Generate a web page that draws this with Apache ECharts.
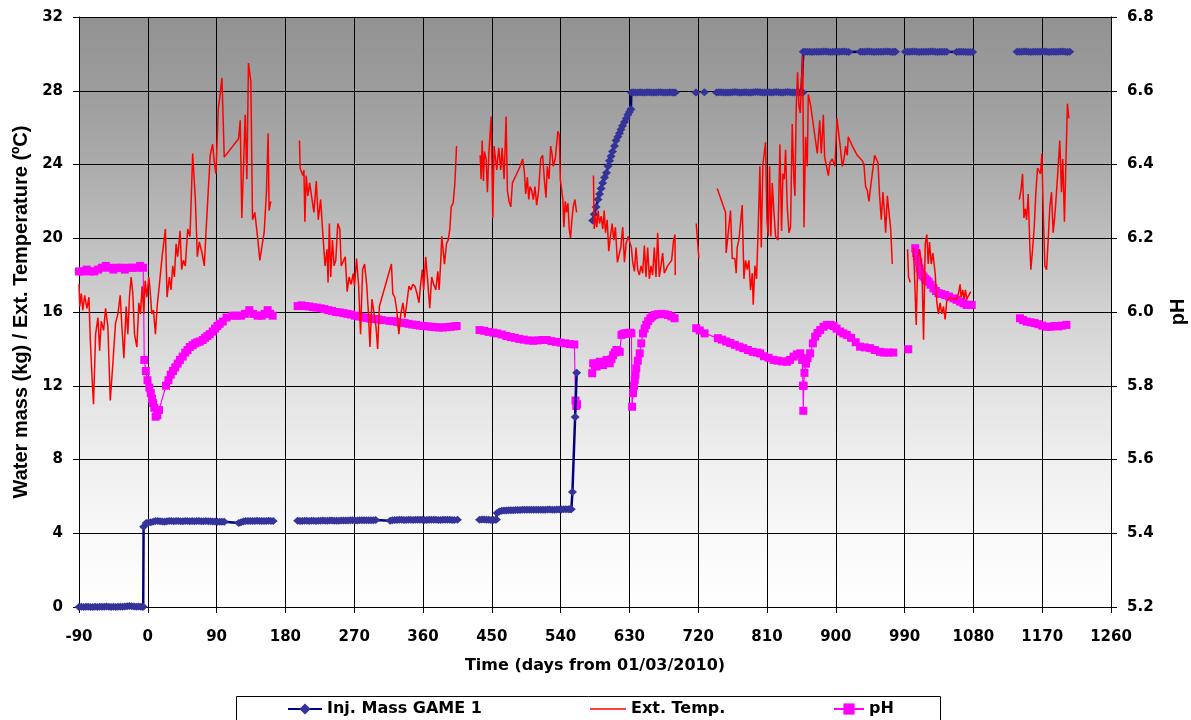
<!DOCTYPE html>
<html>
<head>
<meta charset="utf-8">
<script src="https://cdn.jsdelivr.net/npm/echarts@6/dist/echarts.min.js"></script>
<style>
  html, body { margin: 0; padding: 0; background: #ffffff; }
  #chart { width: 1191px; height: 720px; }
</style>
</head>
<body>
<div id="chart"></div>
<script>
// Time axis ticks (days from 01/03/2010)
const dayTicks = [-90, 0, 90, 180, 270, 360, 450, 540, 630, 720, 810, 900, 990, 1080, 1170, 1260];
const seriesNames = ['Inj. Mass GAME 1', 'Ext. Temp.', 'pH'];

// Injected water mass (kg) as [day, kg]; null marks a break in the record
const injMass = [
  [-90,0],[-87,0.01],[-84,0],[-81,0.01],[-78,0.02],[-75,0],[-72,0],[-69,0.01],[-66,0],[-63,0.01],[-60,0.02],[-57,0.02],[-54,0.03],[-51,0.01],[-48,0],[-45,0.01],[-42,0],[-39,0.01],[-36,0.02],[-33,0.02],[-30,0.03],[-27,0.04],[-24,0.05],[-21,0.04],[-18,0.03],[-15,0.02],[-12,0.03],[-9,0.02],[-7,0.02],[-6,0.02],
  [-5.5,4.35],[-2,4.55],[1,4.58],[4,4.6],[7,4.63],[10,4.66],[13,4.66],[16,4.65],[19,4.64],[22,4.63],[25,4.65],[28,4.66],[31,4.66],[34,4.65],[37,4.66],[40,4.66],[43,4.65],[46,4.65],[49,4.66],[52,4.66],[55,4.65],[58,4.66],[61,4.65],[64,4.66],[67,4.66],[70,4.65],[73,4.65],[76,4.66],[79,4.65],[82,4.65],[85,4.64],[88,4.64],[91,4.63],[94,4.63],[97,4.62],[100,4.62],
  [119,4.56],[122,4.6],[125,4.64],[128,4.66],[131,4.67],[134,4.66],[137,4.66],[140,4.67],[143,4.68],[146,4.67],[149,4.66],[152,4.67],[155,4.67],[158,4.68],[161,4.67],[164,4.67],
  null,
  [196,4.68],[199,4.67],[202,4.67],[205,4.68],[208,4.68],[211,4.67],[214,4.68],[217,4.68],[220,4.67],[223,4.68],[226,4.68],[229,4.69],[232,4.68],[235,4.68],[238,4.69],[241,4.69],[244,4.68],[247,4.68],[250,4.68],[253,4.69],[256,4.69],[259,4.69],[262,4.69],[265,4.7],[268,4.7],[271,4.69],[274,4.69],[277,4.7],[280,4.7],[283,4.7],[286,4.7],[289,4.71],[292,4.71],[295,4.71],[298,4.72],
  [317,4.68],[320,4.71],[323,4.72],[326,4.72],[329,4.73],[332,4.73],[335,4.72],[338,4.72],[341,4.73],[344,4.73],[347,4.72],[350,4.73],[353,4.73],[356,4.73],[359,4.73],[362,4.72],[365,4.72],[368,4.73],[371,4.73],[374,4.73],[377,4.73],[380,4.72],[383,4.72],[386,4.73],[389,4.73],[392,4.73],[395,4.73],[398,4.72],[401,4.72],[405,4.73],
  null,
  [434,4.73],[437,4.74],[440,4.74],[443,4.73],[446,4.73],[449,4.72],[452,4.72],[455,4.73],[456,4.74],[457,5.1],[460,5.18],[463,5.22],[466,5.24],[469,5.24],[472,5.25],[475,5.25],[478,5.25],[481,5.26],[484,5.26],[487,5.26],[490,5.27],[493,5.27],[496,5.27],[499,5.27],[502,5.28],[505,5.28],[508,5.27],[511,5.28],[514,5.28],[517,5.28],[520,5.28],[523,5.29],[526,5.29],[529,5.28],[532,5.28],[535,5.29],[538,5.29],[541,5.29],[544,5.3],[547,5.3],[550,5.3],[552,5.3],[554,5.3],
  [555.5,6.24],[559,10.3],[561,12.7],
  null,
  [582,20.96],[584,21.3],[586.5,21.7],[589,22.1],[591,22.4],[593,22.7],[595,23.0],[597.5,23.3],[600,23.55],[602,23.9],[604,24.2],[606,24.45],[608,24.7],[610.5,25.0],[612.5,25.3],[615,25.5],[617,25.7],[619,25.9],[621,26.1],[623.5,26.3],[626,26.5],[628,26.7],[630,26.85],[632,27.0],
  [632.5,27.9],[635,27.92],[638,27.9],[641,27.9],[644,27.92],[647,27.9],[650,27.9],[653,27.92],[656,27.92],[659,27.9],[662,27.9],[665,27.9],[668,27.92],[671,27.92],[674,27.9],[677,27.9],[680,27.9],[683,27.92],[686,27.9],[688,27.9],[690,27.9],
  null,
  [717,27.9],
  null,
  [728,27.92],
  null,
  [744,27.9],[747,27.92],[750,27.92],[753,27.9],[756,27.9],[759,27.9],[762,27.9],[765,27.92],[768,27.93],[771,27.92],[774,27.9],[777,27.9],[780,27.92],[783,27.92],[786,27.9],[789,27.9],[792,27.92],[795,27.93],[798,27.93],[801,27.92],[804,27.9],[807,27.9],[810,27.92],[813,27.92],[816,27.9],[819,27.92],[822,27.93],[825,27.92],[828,27.9],[831,27.9],[834,27.92],[837,27.93],[840,27.92],[843,27.9],[846,27.9],[849,27.92],[852,27.9],[855,27.9],[857,27.9],
  [857.5,30.12],[860,30.12],[863,30.12],[866,30.11],[869,30.1],[872,30.11],[875,30.12],[878,30.12],[881,30.12],[884,30.13],[887,30.13],[890,30.12],[893,30.1],[896,30.11],[899,30.12],[902,30.12],[905,30.12],[908,30.13],[911,30.13],[914,30.12],[917,30.1],
  [932,30.12],[935,30.12],[938,30.12],[941,30.13],[944,30.13],[947,30.12],[950,30.1],[953,30.11],[956,30.12],[959,30.12],[962,30.12],[965,30.13],[968,30.13],[971,30.12],[974,30.1],[976,30.11],[978,30.12],
  null,
  [991,30.12],[994,30.12],[997,30.12],[1000,30.13],[1003,30.13],[1006,30.12],[1009,30.1],[1012,30.11],[1015,30.12],[1018,30.12],[1021,30.12],[1024,30.13],[1027,30.13],[1030,30.12],[1033,30.1],[1036,30.11],[1039,30.12],[1042,30.12],[1045,30.12],
  [1058,30.1],[1061,30.11],[1064,30.12],[1067,30.11],[1070,30.1],[1073,30.1],[1076,30.1],[1079,30.1],
  null,
  [1137,30.12],[1140,30.12],[1143,30.12],[1146,30.13],[1149,30.13],[1152,30.12],[1155,30.1],[1158,30.11],[1161,30.12],[1164,30.12],[1167,30.12],[1170,30.13],[1173,30.13],[1176,30.12],[1179,30.1],[1182,30.11],[1185,30.12],[1188,30.12],[1191,30.12],[1194,30.13],[1197,30.13],[1200,30.12],[1203,30.1],[1206,30.12]
];

// External temperature (ºC) as [day, ºC]
const extTemp = [
  [-90,17.5],[-89,16.3],[-87,17.0],[-85,16.1],[-82.6,16.9],[-79.6,16.2],[-77,16.8],[-75.2,14.5],[-73,12.5],[-71,11.0],[-68.3,14.8],[-65.2,15.7],[-63,13.9],[-60.9,15.5],[-57.8,15.0],[-55.2,16.2],[-52.2,15.2],[-49.1,11.2],[-45.7,13.2],[-42.2,15.4],[-39.1,15.9],[-36.1,16.9],[-33.9,15.2],[-31.3,13.5],[-28.3,16.3],[-26.1,14.8],[-24,16.8],[-21.8,17.9],[-19.6,17.0],[-17.4,14.8],[-14.3,14.1],[-11.7,16.5],[-9.6,15.9],[-7.4,17.4],[-5.2,15.9],[-3.5,17.7],[-1.3,16.8],[1.3,17.9],[3,17.2],[5.2,15.9],[7.4,16.1],[10,14.8],[12.2,16.3],[15.2,17.5],[18.7,19.0],[23,20.5],[25.2,16.8],[28.3,17.9],[30.4,17.2],[32.6,18.5],[34.8,17.9],[37,19.7],[39.1,19.0],[42.2,20.4],[44.3,18.3],[46.5,18.8],[49.1,18.5],[52.2,20.5],[55.2,20.1],[58.7,24.6],[62.2,22.1],[64.8,19.0],[67.4,19.8],[70.9,19.2],[73.9,18.5],[76.1,20.3],[78.7,22.3],[81.7,24.5],[84.8,25.1],[87,24.1],[89.1,23.5],[92.2,27.0],[94.3,27.7],[97,28.7],[100,24.4],[118.7,25.4],[120.9,26.4],[123,21.1],[125.2,23.9],[127.4,26.7],[129.6,23.2],[131.7,29.5],[134.8,28.5],[137,21.0],[140,21.4],[143.5,20.1],[146.6,18.8],[149.1,19.5],[152.2,20.3],[155.2,22.5],[157.4,25.7],[158.7,21.5],[160.9,22.0],
  null,
  [198.4,25.3],[199.3,23.8],[201.1,23.9],[202.8,23.4],[204.2,23.7],[205.5,20.9],[207.2,23.4],[209.4,22.3],[211.7,23.0],[214.2,23.0],[217.3,21.4],[220.4,23.1],[223,21.0],[226.1,22.1],[229.2,20.1],[231.8,18.5],[234.5,19.4],[235.8,17.6],[237.5,20.8],[239.3,17.9],[241.5,19.9],[243.7,18.5],[245.9,18.8],[248.5,20.8],[251.2,20.5],[253,18.5],[255.6,18.6],[258.3,19.0],[260.8,17.1],[263.4,17.9],[266,17.5],[268.7,18.1],[270.4,17.4],[273.1,18.9],[275.7,17.5],[278.3,14.8],[281,18.3],[283.6,18.6],[286.3,17.5],[288.4,16.1],[290.6,14.1],[293.3,16.7],[295.9,16.8],[298.5,15.2],[300.7,14.0],[302.9,16.3],[318.7,18.6],[320.5,17.0],[323.1,16.8],[325.7,16.1],[328.4,14.8],[331,15.9],[333.7,16.5],[336.3,15.7],[338.9,16.5],[341.6,17.4],[344.2,17.2],[346.8,17.5],[349.5,17.4],[352.1,17.0],[354.7,16.5],[356.9,17.5],[359.1,18.3],[360.9,17.2],[363.5,19.0],[366.1,17.7],[368.8,16.2],[371.4,17.9],[374,17.5],[376.7,17.2],[379.4,18.2],[381.1,17.2],[382.9,18.5],[384.6,20.1],[386.4,20.2],[388.1,18.6],[390.7,19.7],[392.9,19.9],[395.1,20.5],[396.9,21.7],[399.5,21.9],[401.7,23.0],[403.9,25.0],
  null,
  [434.8,24.5],[436,23.2],[437.4,25.3],[439.1,23.1],[440.4,24.7],[442.6,24.3],[444.3,22.5],[446.1,24.6],[447.8,25.7],[449.1,26.6],[451.3,21.1],[453,25.0],[454.8,25.1],[456.5,23.7],[459.1,24.9],[461.7,23.7],[463.5,24.9],[466.1,23.2],[468.7,26.6],[470.4,22.6],[472.6,22.0],[474.8,21.7],[477,23.0],[482.6,23.5],[487,23.9],[490.4,24.3],[492.6,23.6],[494.3,22.4],[496.5,23.3],[498.3,22.1],[500,22.8],[502.2,22.6],[504.3,22.1],[506.5,22.8],[508.7,21.8],[511.3,22.6],[513.9,24.3],[516.5,24.5],[518.7,23.2],[520.9,22.2],[522.6,23.9],[524.8,23.2],[527,25.0],[528.7,24.6],[530.4,23.9],[533,24.3],[534.8,25.1],[536.5,25.8],[538.3,25.6],[539.6,23.2],[541.3,23.1],[543,22.1],[544.3,20.6],[546.1,22.0],[547.8,21.4],[549.6,21.9],[551.3,20.5],[553,20.0],[554.8,21.0],[556.5,21.7],[558.7,22.1],[560.9,21.4],
  null,
  [583,23.4],[583.9,20.5],[585.7,21.2],[587.4,20.6],[589.1,21.5],[590.9,20.8],[593,21.2],[595.2,20.5],[597,21.5],[598.7,20.3],[600.9,21.0],[603,19.3],[605.2,20.1],[607.4,20.8],[609.6,19.9],[611.7,20.6],[614.3,18.7],[616.9,18.7],[618.7,19.5],[621.3,20.6],[623.5,18.7],[625.7,19.7],[628.3,20.1],[630.9,20.0],[632.6,19.5],[634.3,18.7],[636.5,18.2],[638.7,19.5],[640.9,18.3],[643,18.0],[645.2,18.5],[647.4,18.1],[649.6,19.6],[651.7,17.9],[653.9,19.5],[656.1,17.8],[658.3,18.5],[660.4,18.0],[662.6,19.5],[664.8,17.9],[667,20.3],[669.1,17.9],[671.3,18.5],[673.5,19.2],[675.7,18.1],[677.8,18.1],[680,18.5],[682.2,18.6],[685.2,18.8],[687.8,19.9],[689.6,20.2],[690,18.0],
  null,
  [717.4,20.8],[720.9,18.9],
  null,
  [744.9,22.7],[755.8,21.4],[756.6,19.2],[758.8,20.1],[762.3,21.5],[764.5,18.9],[768,18.9],[769.7,18.1],[771,19.5],[773.2,19.9],[775.4,19.9],[777.6,21.8],[779.8,17.8],[781.9,18.8],[784.1,18.3],[786.3,18.8],[788.5,17.2],[790.7,18.1],[792,16.4],[794.2,18.5],[796.4,17.8],[798.5,20.6],[800.7,23.9],[802.5,19.5],[804.6,24.0],[806.4,23.9],[808.1,25.2],[809.9,21.0],[811.6,20.1],[813.4,23.9],[815.1,20.1],[816.9,23.0],[819,21.5],[821.2,20.1],[824.3,19.9],[826.9,25.1],[829.1,20.4],[830.8,23.5],[832.6,23.2],[834.3,24.8],[836.5,21.7],[838.7,20.3],[840.8,20.6],[843,26.2],[845.2,23.2],[846.5,22.3],[848.3,27.2],[850,29.0],[851.8,27.2],[853.5,26.8],[855.3,28.6],[856.6,29.9],[858.4,20.6],[860.5,25.5],[862.7,23.9],[864,27.8],[867.1,27.2],[875.8,24.6],[878.9,26.4],[881,24.6],[883.7,26.7],[885.4,24.4],[887.6,24.5],[890.2,23.4],[892.3,24.1],[895.4,24.3],[898.9,23.9],[901.5,26.5],[904.1,26.4],[906.3,24.8],[908.5,23.9],[910.7,24.3],[912.8,25.0],[915,24.5],[916.3,25.5],[921.6,25.0],[928.1,24.5],[934.7,24.2],[936.8,24.0],[939,22.8],[941.2,22.6],[943.4,22.0],[945.6,22.8],[947.7,23.5],[950.8,24.5],[953,24.6],[955.2,24.1],[957.3,22.3],[959.5,21.0],[961.7,22.5],[963.5,21.5],[965.2,20.3],[967.4,22.3],[970,22.4],[971.8,20.5],[973.9,18.6],
  null,
  [993.9,19.4],[995.2,17.9],[997.4,17.6],
  null,
  [1001.7,19.5],[1005.2,15.3],[1007.4,19.0],[1009.6,19.4],[1012.6,18.5],[1014.8,14.5],[1017,19.7],[1019.1,20.2],[1020.9,18.6],[1022.6,19.8],[1024.8,18.6],[1027,19.2],[1030,18.1],[1032.2,16.5],[1034.3,15.9],[1036.5,16.5],[1038.7,15.9],[1040.9,16.3],[1043,15.6],[1045.2,16.6],[1049.6,16.8],[1053.9,16.7],[1058.3,16.7],[1060.4,17.0],[1062.6,17.5],[1063.9,16.8],[1066.1,17.2],[1067.8,16.7],[1069.6,17.2],[1071.3,16.7],[1073.9,16.8],[1076.5,17.1],
  null,
  [1140,22.1],[1142.2,22.6],[1144.3,23.5],[1146.1,21.1],[1147.8,21.6],[1149.6,21.0],[1151.7,22.4],[1153.9,19.5],[1155.2,18.3],[1157.4,19.4],[1159.6,20.6],[1161.7,22.5],[1163.9,23.8],[1166.1,23.9],[1167.8,23.5],[1169.6,24.6],[1171.3,21.5],[1173.5,18.5],[1175.7,18.3],[1177.8,19.9],[1180,21.7],[1182.2,22.5],[1184.3,20.3],[1186.5,21.2],[1188.7,22.5],[1190.9,23.9],[1193,25.3],[1195.2,22.5],[1196.9,24.3],[1199.1,20.9],[1200.9,23.9],[1203,27.3],[1204.8,26.5]
];

// pH as [day, pH]
const phData = [
  [-90,6.11],[-85,6.11],[-80,6.115],[-75,6.11],[-70,6.11],[-65,6.115],[-60,6.12],[-55,6.125],[-50,6.12],[-45,6.115],[-40,6.12],[-35,6.12],[-30,6.115],[-25,6.12],[-20,6.12],[-15,6.12],[-10,6.125],[-6,6.12],
  [-4.6,5.87],[-2.6,5.84],[-0.4,5.815],[2,5.795],[3.9,5.78],[5.5,5.765],[7,5.753],[8.5,5.74],[10.3,5.716],[12.5,5.72],[14.6,5.734],
  [23.8,5.80],[27,5.815],[30,5.83],[33,5.84],[36,5.85],[39,5.86],[42,5.87],[45.6,5.879],[49,5.89],[52,5.897],[55,5.905],[58.7,5.91],[62,5.915],[65,5.918],[68,5.92],[71.8,5.924],[75,5.93],[78,5.935],[81,5.94],[84.9,5.947],[88,5.955],[91,5.962],[94,5.968],[98,5.974],
  [103,5.985],[111,5.99],[116,5.99],[122,5.99],[127,5.995],[132.8,6.005],[138,5.995],[143.7,5.99],[149,5.99],[153,5.995],[156.8,6.005],[160,5.995],[163.3,5.99],
  null,
  [196,6.016],[201,6.018],[206,6.016],[211,6.015],[216,6.013],[221,6.012],[226,6.01],[231,6.008],[236,6.005],[241,6.003],[246,6.0],[251,5.999],[256,5.997],[261,5.995],[266,5.993],[271,5.99],[276,5.988],[281,5.986],[286,5.984],[291,5.982],[296,5.981],[301,5.98],[306,5.978],
  [316,5.976],[321,5.975],[326,5.973],[331,5.971],[336,5.97],[341,5.968],[346,5.966],[351,5.965],[356,5.963],[361,5.962],[366,5.961],[371,5.96],[376,5.959],[381,5.958],[386,5.958],[391,5.959],[396,5.96],[401,5.961],[404,5.962],
  null,
  [434,5.951],[440,5.949],[446,5.946],[452,5.944],[457,5.942],[463,5.939],[469,5.935],[475,5.932],[480,5.93],[486,5.927],[492,5.925],[498,5.923],[504,5.922],[510,5.923],[516,5.924],[522,5.924],[528,5.921],[534,5.919],[540,5.917],[546,5.915],[552,5.913],[558,5.912],
  [559.5,5.76],[560.5,5.745],[561.5,5.75],
  null,
  [581.3,5.834],[582.6,5.861],[585,5.855],[587,5.852],[589,5.86],[591.3,5.865],[593.5,5.86],[595.7,5.856],[598,5.862],[600,5.87],[602,5.866],[604.3,5.861],[606.5,5.872],[608.7,5.883],[611,5.89],[613,5.897],[615,5.894],[617.4,5.892],[619.6,5.938],[622,5.94],[624,5.942],[626,5.942],[628.3,5.942],[630.5,5.944],[632.6,5.942],
  [633.5,5.743],[634.8,5.78],[636,5.80],[637,5.816],[638,5.83],[639,5.847],[641,5.868],[643.5,5.888],[645.5,5.915],[647.8,5.942],[650,5.955],[652,5.965],[654.5,5.975],[657.4,5.983],[660,5.988],[663,5.992],[667,5.994],[671.7,5.995],[676,5.994],[680.4,5.992],[685,5.988],[689.1,5.983],
  null,
  [717.4,5.956],[722,5.95],[728.3,5.942],[745.7,5.929],[751,5.925],[756.5,5.92],[762,5.916],[768,5.911],[773.9,5.906],[779,5.902],[785,5.897],[791.3,5.892],[797,5.89],[801,5.888],[806,5.88],[812,5.876],[818.7,5.87],[824,5.868],[830,5.866],[836,5.865],[840,5.87],[844.8,5.879],[849,5.885],[853.5,5.888],
  [856,5.87],[857,5.80],[857.5,5.732],[858,5.80],[859,5.835],[861,5.86],[863,5.875],[866.5,5.888],[870,5.915],[873,5.933],[876,5.943],[879.6,5.951],[884,5.96],[888.3,5.965],[893,5.965],[897,5.962],[901,5.955],[905.7,5.947],[910,5.942],[914.3,5.938],[920,5.93],[926,5.918],[931.7,5.906],[938,5.904],[944.8,5.902],[951,5.897],[957.8,5.892],[963,5.89],[969,5.89],[975.2,5.89],
  null,
  [994.8,5.899],
  null,
  [1003.9,6.173],[1005,6.16],[1006,6.15],[1008,6.135],[1009.6,6.118],[1011,6.108],[1013,6.1],[1014.8,6.096],[1017,6.09],[1019,6.086],[1021.3,6.082],[1024,6.074],[1027.8,6.064],[1031,6.057],[1034.3,6.051],[1038,6.049],[1043,6.046],[1048,6.042],[1053.9,6.037],[1058,6.033],[1062.6,6.028],[1067,6.024],[1071.3,6.019],[1074,6.02],[1077.8,6.019],
  null,
  [1140.9,5.983],[1145,5.978],[1149.6,5.974],[1155,5.972],[1160,5.97],[1165,5.967],[1170,5.963],[1175.7,5.96],[1181,5.96],[1186,5.962],[1191,5.961],[1196,5.963],[1201.7,5.965]
];

// A null entry becomes an empty point so the line breaks there
function withGaps(rows) {
  const out = [];
  for (let i = 0; i < rows.length; i++) {
    if (rows[i] === null) {
      const prev = rows[i - 1];
      out.push([prev[0] + 0.5, '-']);
    } else {
      out.push(rows[i]);
    }
  }
  return out;
}

const WIDE = '"DejaVu Sans", Verdana, sans-serif';
const ARIAL = '"Liberation Sans", Arial, sans-serif';
const tickStyle = { color: '#000', fontFamily: WIDE, fontWeight: 'bold', fontSize: 15 };
const titleStyle = { color: '#000', fontFamily: WIDE, fontWeight: 'bold', fontSize: 16 };
const sideTitleStyle = { color: '#000', fontFamily: ARIAL, fontWeight: 'bold', fontSize: 20 };
const legendText = { color: '#000', fontFamily: WIDE, fontWeight: 'bold', fontSize: 16 };

// Thin horizontal bar used as the temperature legend key
const lineKey = 'path://M0,6 L36,6 L36,7.6 L0,7.6 Z';

const chart = echarts.init(document.getElementById('chart'), null, { renderer: 'canvas' });

chart.setOption({
  animation: false,
  backgroundColor: '#ffffff',
  grid: {
    left: 79, right: 80, top: 17, bottom: 113,
    containLabel: false,
    outerBoundsMode: 'none',
    show: true,
    borderWidth: 0,
    backgroundColor: {
      type: 'linear', x: 0, y: 0, x2: 0, y2: 1,
      colorStops: [
        { offset: 0, color: '#929292' },
        { offset: 0.125, color: '#9d9d9d' },
        { offset: 0.25, color: '#ababab' },
        { offset: 0.375, color: '#bebebe' },
        { offset: 0.5, color: '#d2d2d2' },
        { offset: 0.625, color: '#e2e2e2' },
        { offset: 0.75, color: '#efefef' },
        { offset: 0.875, color: '#f8f8f8' },
        { offset: 1, color: '#ffffff' }
      ]
    }
  },
  graphic: [{
    type: 'rect',
    shape: { x: 236.5, y: 696.5, width: 704, height: 40 },
    style: { fill: '#ffffff', stroke: '#000000', lineWidth: 1 },
    z: -1
  }],
  legend: [
    { data: [seriesNames[0]], left: 287, top: 701, itemWidth: 34, itemHeight: 14, padding: 0, selectedMode: false, textStyle: legendText },
    { data: [{ name: seriesNames[1], icon: lineKey }], left: 590, top: 701, itemWidth: 36, itemHeight: 14, padding: 0, selectedMode: false, textStyle: legendText },
    { data: [seriesNames[2]], left: 833, top: 701, itemWidth: 30, itemHeight: 14, padding: 0, selectedMode: false, textStyle: legendText }
  ],
  xAxis: {
    type: 'value',
    min: dayTicks[0],
    max: dayTicks[dayTicks.length - 1],
    interval: 90,
    name: 'Time (days from 01/03/2010)',
    nameLocation: 'middle',
    nameGap: 51,
    nameTextStyle: titleStyle,
    axisLine: { onZero: false, lineStyle: { color: '#000', width: 1 } },
    axisTick: { show: true, inside: false, length: 6, lineStyle: { color: '#000' } },
    axisLabel: Object.assign({ margin: 23, showMinLabel: true, showMaxLabel: true, formatter: v => String(v) }, tickStyle),
    splitLine: { show: true, lineStyle: { color: '#000', width: 1 } }
  },
  yAxis: [
    {
      type: 'value',
      min: 0, max: 32, interval: 4,
      position: 'left',
      name: 'Water mass (kg) / Ext. Temperature (ºC)',
      nameLocation: 'middle',
      nameRotate: 90,
      nameGap: 47,
      nameTextStyle: sideTitleStyle,
      axisLine: { show: true, onZero: false, lineStyle: { color: '#000', width: 1 } },
      axisTick: { show: true, inside: false, length: 6, lineStyle: { color: '#000' } },
      axisLabel: Object.assign({ margin: 16, formatter: v => String(v) }, tickStyle),
      splitLine: { show: true, lineStyle: { color: '#000', width: 1 } }
    },
    {
      type: 'value',
      min: 5.2, max: 6.8, interval: 0.2,
      position: 'right',
      name: 'pH',
      nameLocation: 'middle',
      nameRotate: 90,
      nameGap: 57,
      nameTextStyle: sideTitleStyle,
      axisLine: { show: true, onZero: false, lineStyle: { color: '#000', width: 1 } },
      axisTick: { show: true, inside: false, length: 6, lineStyle: { color: '#000' } },
      axisLabel: Object.assign({ margin: 16, formatter: v => v.toFixed(1) }, tickStyle),
      splitLine: { show: false }
    }
  ],
  series: [
    {
      name: seriesNames[2],
      type: 'line',
      yAxisIndex: 1,
      data: withGaps(phData),
      connectNulls: false,
      symbol: 'rect',
      symbolSize: 8,
      showSymbol: true,
      itemStyle: { color: '#ff00ff' },
      lineStyle: { color: '#ff00ff', width: 1.2 },
      z: 2
    },
    {
      name: seriesNames[0],
      type: 'line',
      yAxisIndex: 0,
      data: withGaps(injMass),
      connectNulls: false,
      symbol: 'diamond',
      symbolSize: [9, 8],
      showSymbol: true,
      itemStyle: { color: '#333399' },
      lineStyle: { color: '#000080', width: 2.5 },
      z: 3
    },
    {
      name: seriesNames[1],
      type: 'line',
      yAxisIndex: 0,
      data: withGaps(extTemp),
      connectNulls: false,
      symbol: 'none',
      showSymbol: false,
      itemStyle: { color: '#ff0000' },
      lineStyle: { color: '#ff0000', width: 1.5 },
      z: 4
    }
  ]
});
</script>
</body>
</html>
